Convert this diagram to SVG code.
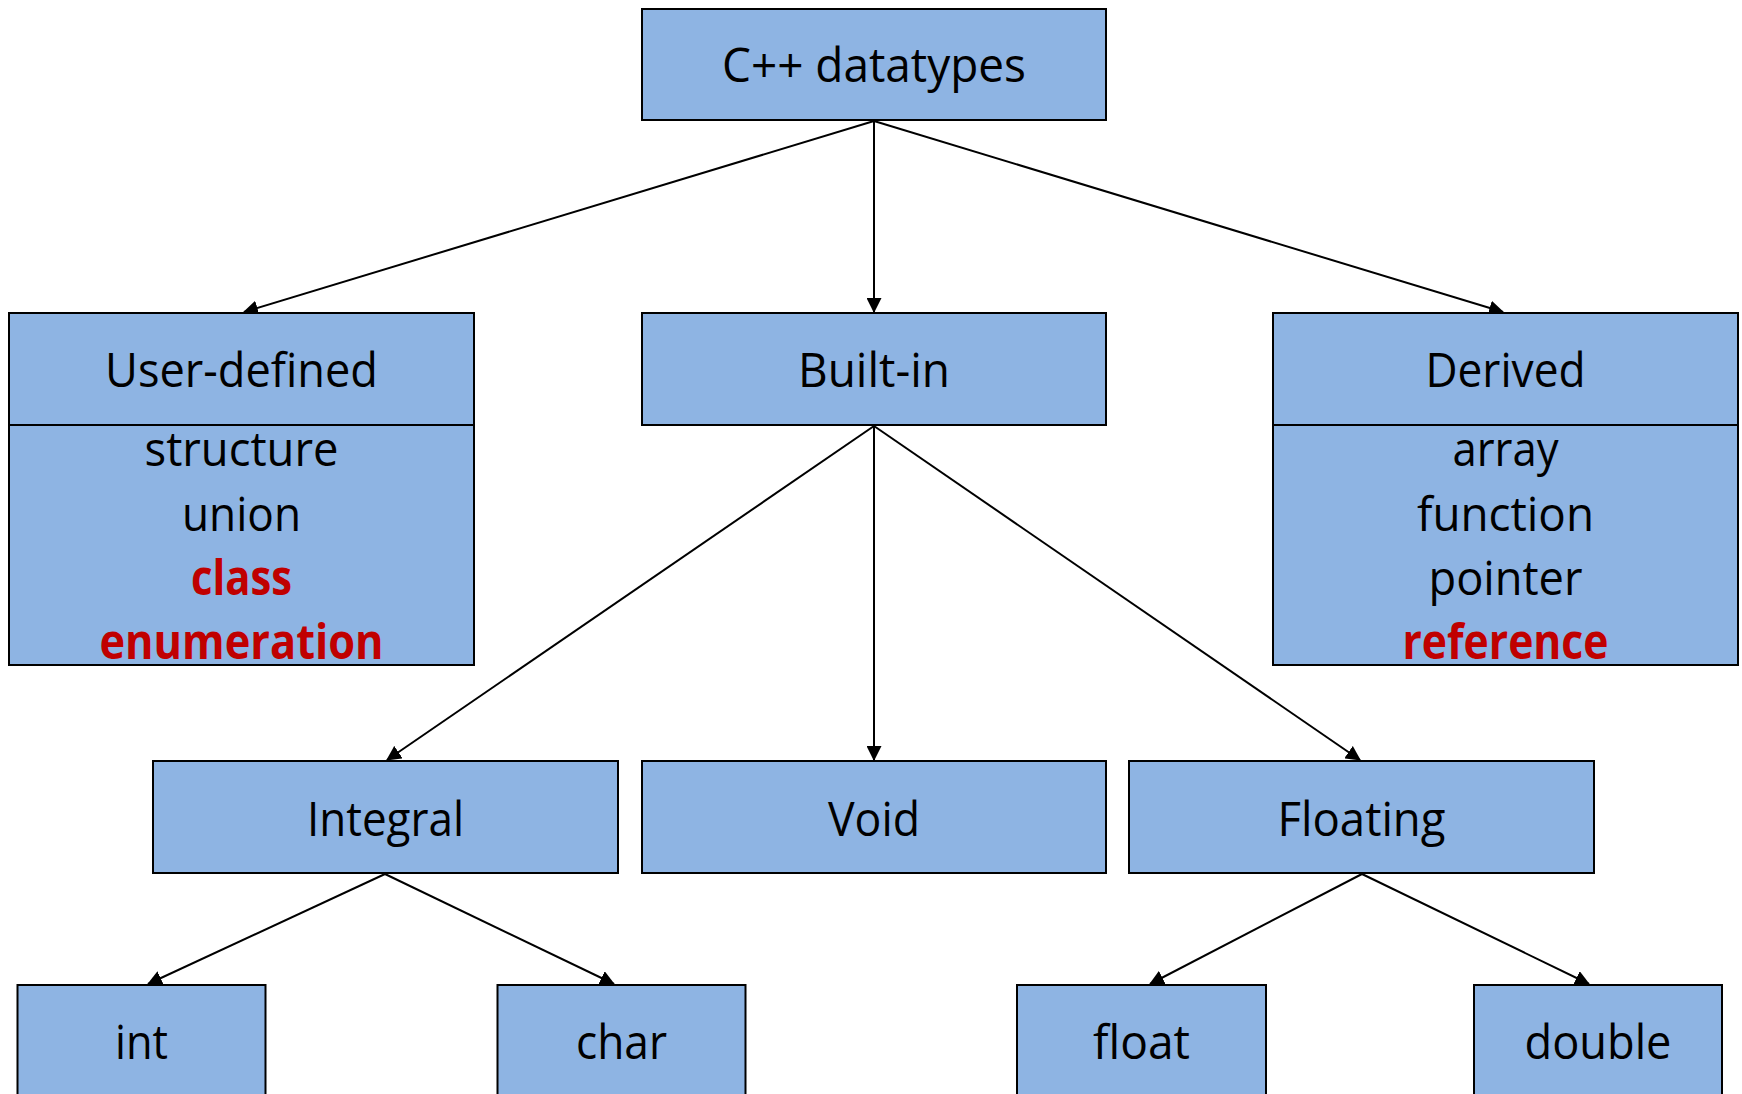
<svg xmlns="http://www.w3.org/2000/svg" width="1742" height="1094" viewBox="0 0 1742 1094">
  <style>
    .box { fill: #8EB4E3; stroke: #000; stroke-width: 2; }
    .div { stroke: #000; stroke-width: 2; }
    .t { font-family: "Open Sans", "Liberation Sans", sans-serif; font-size: 48px; fill: #000; text-anchor: middle; }
    .s { font-size: 47px; }
    .red { fill: #C00000; font-weight: bold; }
    .edge { stroke: #000; stroke-width: 2; fill: none; marker-end: url(#arrow); }
  </style>
  <defs>
    <marker id="arrow" viewBox="0 0 14 14" markerWidth="15" markerHeight="15" refX="13" refY="7" orient="auto" markerUnits="userSpaceOnUse">
      <path d="M0,0 L14,7 L0,14 Z" fill="#000"/>
    </marker>
  </defs>

  <rect width="1742" height="1094" fill="#fff"/>

  <!-- connectors -->
  <g id="edges">
    <line class="edge" x1="874" y1="121" x2="244" y2="312"/>
    <line class="edge" x1="874" y1="121" x2="874" y2="312"/>
    <line class="edge" x1="874" y1="121" x2="1503" y2="312"/>
    <line class="edge" x1="874" y1="426" x2="387" y2="760"/>
    <line class="edge" x1="874" y1="426" x2="874" y2="760"/>
    <line class="edge" x1="874" y1="426" x2="1360" y2="760"/>
    <line class="edge" x1="385" y1="874" x2="148" y2="984"/>
    <line class="edge" x1="385" y1="874" x2="614" y2="984"/>
    <line class="edge" x1="1362" y1="874" x2="1150" y2="984"/>
    <line class="edge" x1="1362" y1="874" x2="1589" y2="984"/>
  </g>

  <!-- root -->
  <g id="datatypes">
    <rect class="box" x="642" y="9" width="464" height="111"/>
    <text class="t" x="874" y="82" textLength="304" lengthAdjust="spacingAndGlyphs">C++ datatypes</text>
  </g>

  <!-- second row -->
  <g id="user-defined">
    <rect class="box" x="9" y="313" width="465" height="352"/>
    <line class="div" x1="9" y1="425" x2="474" y2="425"/>
    <text class="t" x="241.5" y="387" textLength="273" lengthAdjust="spacingAndGlyphs">User-defined</text>
    <text class="t" x="241.5" y="466" textLength="194" lengthAdjust="spacingAndGlyphs">structure</text>
    <text class="t" x="241.5" y="531" textLength="119" lengthAdjust="spacingAndGlyphs">union</text>
    <text class="t red" x="241.5" y="595" textLength="101" lengthAdjust="spacingAndGlyphs">class</text>
    <text class="t red" x="241.5" y="659" textLength="284" lengthAdjust="spacingAndGlyphs">enumeration</text>
  </g>

  <g id="built-in">
    <rect class="box" x="642" y="313" width="464" height="112"/>
    <text class="t" x="874" y="387" textLength="152" lengthAdjust="spacingAndGlyphs">Built-in</text>
  </g>

  <g id="derived">
    <rect class="box" x="1273" y="313" width="465" height="352"/>
    <line class="div" x1="1273" y1="425" x2="1738" y2="425"/>
    <text class="t" x="1505.5" y="387" textLength="160" lengthAdjust="spacingAndGlyphs">Derived</text>
    <text class="t" x="1505.5" y="466" textLength="106" lengthAdjust="spacingAndGlyphs">array</text>
    <text class="t" x="1505.5" y="531" textLength="177" lengthAdjust="spacingAndGlyphs">function</text>
    <text class="t" x="1505.5" y="595" textLength="154" lengthAdjust="spacingAndGlyphs">pointer</text>
    <text class="t red" x="1505.5" y="659" textLength="206" lengthAdjust="spacingAndGlyphs">reference</text>
  </g>

  <!-- third row -->
  <g id="integral">
    <rect class="box" x="153" y="761" width="465" height="112"/>
    <text class="t" x="385.5" y="836" textLength="157" lengthAdjust="spacingAndGlyphs">Integral</text>
  </g>

  <g id="void">
    <rect class="box" x="642" y="761" width="464" height="112"/>
    <text class="t" x="874" y="836" textLength="92" lengthAdjust="spacingAndGlyphs">Void</text>
  </g>

  <g id="floating">
    <rect class="box" x="1129" y="761" width="465" height="112"/>
    <text class="t" x="1361.5" y="836" textLength="168" lengthAdjust="spacingAndGlyphs">Floating</text>
  </g>

  <!-- leaf row, running past the bottom edge -->
  <g id="int">
    <rect class="box" x="17.5" y="985" width="248" height="140"/>
    <text class="t s" x="141.5" y="1059" textLength="53" lengthAdjust="spacingAndGlyphs">int</text>
  </g>

  <g id="char">
    <rect class="box" x="497.5" y="985" width="248" height="140"/>
    <text class="t s" x="621.5" y="1059" textLength="91" lengthAdjust="spacingAndGlyphs">char</text>
  </g>

  <g id="float">
    <rect class="box" x="1017" y="985" width="249" height="140"/>
    <text class="t s" x="1141.5" y="1059" textLength="97" lengthAdjust="spacingAndGlyphs">float</text>
  </g>

  <g id="double">
    <rect class="box" x="1474" y="985" width="248" height="140"/>
    <text class="t s" x="1598" y="1059" textLength="147" lengthAdjust="spacingAndGlyphs">double</text>
  </g>
</svg>
